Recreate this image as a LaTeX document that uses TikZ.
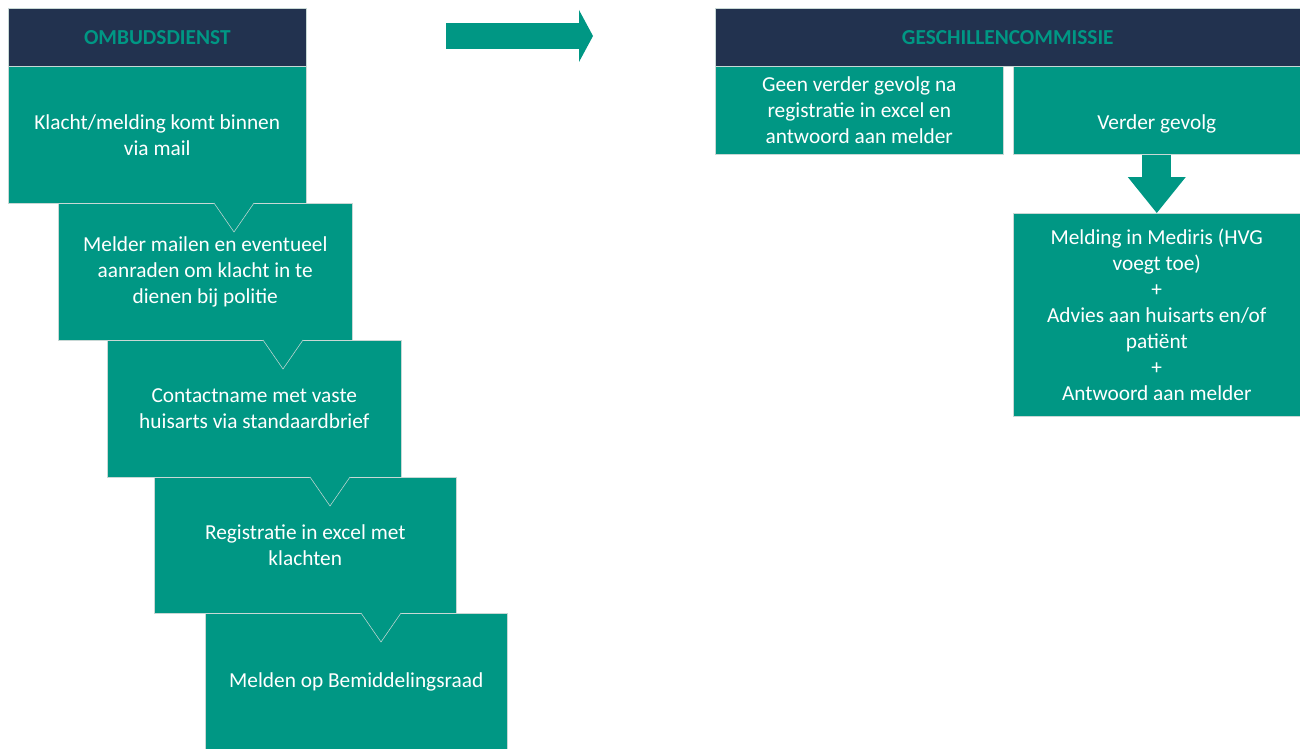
\documentclass[tikz,border=0pt]{standalone}
\usepackage{fontspec}
\setmainfont{Carlito}
\usepackage{tikz}
\usetikzlibrary{arrows.meta,calc}
\definecolor{vgteal}{HTML}{009784}
\definecolor{vgnavy}{HTML}{22324F}
\definecolor{vgrand}{HTML}{C8D8D5}

\begin{document}
\begin{tikzpicture}[x=0.75pt,y=-0.75pt,
		kop/.style={fill=vgnavy, draw=vgrand, line width=0.4pt, text=vgteal,
			font=\bfseries\fontsize{16}{19.5}\selectfont, inner sep=0pt,
			anchor=north west, minimum height=43.5pt},
		stap/.style={fill=vgteal, draw=vgrand, line width=0.4pt, text=white,
			font=\fontsize{16}{19.5}\selectfont, align=center, inner sep=0pt,
			anchor=north west},
		pijl/.style={draw=vgteal, line width=#1},
		notch/.style={draw=vgrand, line width=0.4pt}]
	\useasboundingbox (0,0) rectangle (1300,749);

	% ombudsdienst
	\node[kop, minimum width=223.5pt] (ombuds) at (8,8) {OMBUDSDIENST};
	\node[stap, minimum width=223.5pt, minimum height=102.75pt] (k1) at (8,66)
		{Klacht/melding komt binnen\\via mail};
	\node[stap, minimum width=220.5pt, minimum height=102.75pt] (k2) at (58,203)
		{Melder mailen en eventueel\\aanraden om klacht in te\\dienen bij politie};
	\node[stap, minimum width=220.5pt, minimum height=102.75pt] (k3) at (107,340)
		{Contactname met vaste\\huisarts via standaardbrief};
	\node[stap, minimum width=226.5pt, minimum height=102pt] (k4) at (154,477)
		{Registratie in excel met\\klachten};
	\node[stap, minimum width=226.5pt, minimum height=102.75pt] (k5) at (205,613)
		{Melden op Bemiddelingsraad};
	\foreach \k in {k2,k3,k4,k5} {
		\fill[vgteal] ($(\k.north west)+(155,-1)$) -- ++(21,30) -- ++(21,-30) -- cycle;
		\draw[notch] ($(\k.north west)+(156,0)$) -- ++(20,29) -- ++(20,-29);
	}

	% overgang
	\coordinate (vanL) at (446,36);
	\coordinate (naarR) at (593,36);
	\draw[pijl=19.5pt, -{Triangle[length=10.5pt, width=39pt, line width=0pt]}] (vanL) -- (naarR);

	% geschillencommissie
	\node[kop, minimum width=438.75pt] (geschil) at (715,8) {GESCHILLENCOMMISSIE};
	\node[stap, minimum width=216pt, minimum height=66pt] (geen) at (715,66)
		{Geen verder gevolg na\\registratie in excel en\\antwoord aan melder};
	\node[stap, minimum width=215.25pt, minimum height=66pt] (verder) at (1013,66)
		{\raisebox{-8.5pt}[\height][0pt]{Verder gevolg}};
	\node[stap, minimum width=215.25pt, minimum height=152.25pt] (mediris) at (1013,213)
		{Melding in Mediris (HVG\\voegt toe)\\+\\Advies aan huisarts en/of\\patiënt\\+\\Antwoord aan melder};
	\draw[pijl=21.75pt, -{Triangle[length=27pt, width=43.5pt, line width=0pt]}]
		(verder.south) -- (mediris.north);
\end{tikzpicture}
\end{document}
